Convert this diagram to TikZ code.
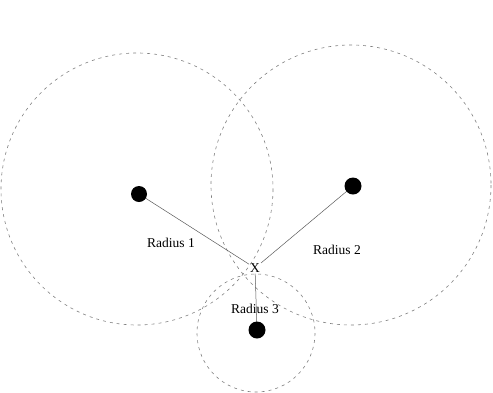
\documentclass[tikz,border=0pt]{standalone}
\usepackage{fontspec}
\setmainfont{Liberation Serif}
\usetikzlibrary{calc}

\begin{document}
\begin{tikzpicture}[x=1pt, y=-1pt,
    ring/.style={gray, dash pattern=on 3pt off 4pt, line width=0.6pt},
    radius line/.style={gray!70!black, line width=0.5pt},
    lbl/.style={font=\fontsize{13.5}{15}\selectfont, inner sep=1pt}]
    \useasboundingbox (0, 0) rectangle (493, 392);

    \coordinate (A) at (139, 194);
    \coordinate (B) at (353, 186);
    \coordinate (C) at (257, 330);
    \node[lbl] (X) at (255, 268) {X};

    \draw[ring] (137, 189) circle (136);
    \draw[ring] (351, 185) circle (140);
    \draw[ring] (256, 333) circle (59);

    \draw[radius line] (A) -- (X);
    \draw[radius line] (B) -- (X);
    \draw[radius line] (X) -- (C);

    \node[lbl] (r1) at (171, 243) {Radius 1};
    \node[lbl] (r2) at (337, 250) {Radius 2};
    \node[lbl] (r3) at (255, 309) {Radius 3};

    \fill (A) circle (8);
    \fill (B) circle (8.5);
    \fill (C) circle (8.5);
\end{tikzpicture}
\end{document}
